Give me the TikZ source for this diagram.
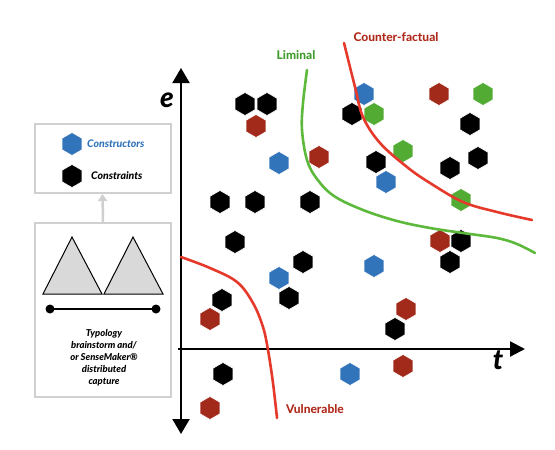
\documentclass[tikz,border=0pt]{standalone}
\usepackage{fontspec}
\setmainfont{Lato}[BoldFont={Lato Heavy}, BoldItalicFont={Lato Heavy Italic}]
\usetikzlibrary{shapes.geometric,arrows.meta}
\definecolor{hblue}{HTML}{3274BA}
\definecolor{hred}{HTML}{A12A1A}
\definecolor{hgreen}{HTML}{52AC34}
\definecolor{cred}{HTML}{E53A2B}
\definecolor{cgreen}{HTML}{5DB93C}
\definecolor{pgray}{HTML}{D0D0D0}
\definecolor{trigray}{HTML}{D9D9D9}
\definecolor{lblred}{HTML}{B02A1C}
\definecolor{lblgreen}{HTML}{3F9B2B}
\tikzset{
  hex/.style={regular polygon, regular polygon sides=6, shape border rotate=30,
    minimum size=23pt, inner sep=0pt, outer sep=0pt, draw=white, line width=0.6pt},
  hk/.style={hex, fill=black},
  hr/.style={hex, fill=hred},
  hb/.style={hex, fill=hblue},
  hg/.style={hex, fill=hgreen},
  panel/.style={draw=pgray, line width=2pt},
  axis/.style={line width=2.2pt, black},
  curvecf/.style={cred, line width=2.6pt, line cap=round},
  curvelim/.style={cgreen, line width=2.6pt, line cap=round},
  curvevul/.style={cred, line width=2.6pt, line cap=round},
  lbl/.style={font=\bfseries\fontsize{12}{14}\selectfont, inner sep=0pt},
  leg/.style={font=\bfseries\itshape\fontsize{10.5}{12}\selectfont, inner sep=0pt, anchor=west},
  tri/.style={fill=trigray, draw=black, line width=1pt, line join=miter}
}
\begin{document}
\begin{tikzpicture}[x=1pt,y=-1pt]
\useasboundingbox (0,0) rectangle (555,450);

% ---- left panel
\node[panel, minimum width=136pt, minimum height=69pt, inner sep=0pt] (legbox) at (102.5,158.5) {};
\node[panel, minimum width=136pt, minimum height=174pt, inner sep=0pt] (capbox) at (103,310) {};
\draw[pgray, line width=2.5pt, -{Triangle[width=9pt,length=7pt]}] (capbox.north) -- (legbox.south);

\node[hb] (lh1) at (72,144) {};
\node[leg, text=hblue] (lt1) at (87,144) {Constructors};
\node[hk] (lh2) at (72,176) {};
\node[leg] (lt2) at (91,176) {Constraints};

\draw[tri] (43,294) -- (72,237) -- (102,294) -- cycle;
\draw[tri] (104,294) -- (133,237) -- (163,294) -- cycle;
\coordinate (dl) at (50,309);
\coordinate (dr) at (156,309);
\draw[line width=2.5pt] (dl) -- (dr);
\fill (dl) circle (4.5pt);
\fill (dr) circle (4.5pt);
\node[align=center, font=\bfseries\itshape\fontsize{9.5}{12}\selectfont, inner sep=0pt] (captxt) at (104,358)
  {Typology\\brainstorm and/\\or SenseMaker®\\distributed\\capture};

% ---- hexagons
\foreach \x/\y [count=\i] in {245/104,267/104,220/202,255/202,310/202,235/242,303/262,289/298,222/300,223/374,352/114,470/124,376/162,450/168,478/158,461/241,450/262,395/329}
  \node[hk] (k\i) at (\x,\y) {};
\foreach \x/\y [count=\i] in {256/126,319/157,210/319,210/408,439/94,440/241,406/309,403/366}
  \node[hr] (r\i) at (\x,\y) {};
\foreach \x/\y [count=\i] in {279/163,364/94,386/182,279/278,374/266,350/374}
  \node[hb] (b\i) at (\x,\y) {};
\foreach \x/\y [count=\i] in {374/114,483/94,403/151,461/200}
  \node[hg] (g\i) at (\x,\y) {};

% ---- axes
\coordinate (ytop) at (181,68);
\coordinate (ybot) at (181,434);
\coordinate (xl) at (178,349);
\coordinate (xr) at (525,349);
\draw[axis, {Triangle[width=17pt,length=15pt]}-{Triangle[width=17pt,length=15pt]}] (ybot) -- (ytop);
\draw[axis, -{Triangle[width=15pt,length=15pt]}] (xl) -- (xr);
\node[font=\bfseries\itshape\fontsize{28}{30}\selectfont, inner sep=0pt] (elbl) at (167,100) {e};
\node[font=\bfseries\itshape\fontsize{28}{30}\selectfont, inner sep=0pt] (tlbl) at (498,360) {t};

% ---- curves
\draw[curvecf] plot[smooth, tension=0.6] coordinates {(344,43) (355,87) (363,117) (380,143) (407,167) (430,183) (463,202) (497,212) (532,220)};
\draw[curvelim] plot[smooth, tension=0.6] coordinates {(307,70) (303,103) (302,130) (307,160) (317,179) (334,196) (363,210) (397,221) (430,228) (463,233) (497,238) (517,244) (535,253)};
\draw[curvevul] plot[smooth, tension=0.6] coordinates {(181,257) (210,268) (237,282) (253,303) (263,327) (268,350) (273,383) (277,418)};

% ---- labels
\node[lbl, text=lblgreen] (liminal) at (296,55) {Liminal};
\node[lbl, text=lblred] (cf) at (396,37) {Counter-factual};
\node[lbl, text=lblred] (vul) at (315,409) {Vulnerable};
\end{tikzpicture}
\end{document}
